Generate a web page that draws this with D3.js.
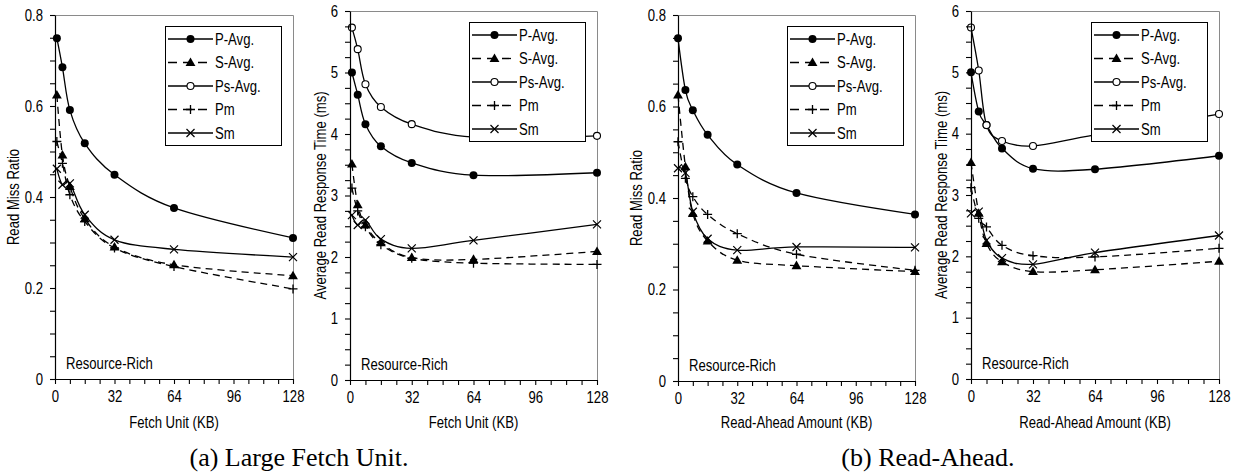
<!DOCTYPE html>
<html>
<head>
<meta charset="utf-8">
<script src="https://cdn.jsdelivr.net/npm/d3@7"></script>
<style>
  body { margin: 0; background: #fff; }
  svg text { font-family: "Liberation Sans", Arial, Helvetica, sans-serif; fill: #000; }
  .caption { font-family: "Liberation Serif", "Times New Roman", serif !important; }
</style>
</head>
<body>
<svg id="chart" width="1241" height="474"></svg>
<script>
// ---- data ----
const fetchUnitKB = [1, 4, 8, 16, 32, 64, 128];
const readAheadKB = [0, 4, 8, 16, 32, 64, 128];
const seriesNames = ["P-Avg.", "S-Avg.", "Ps-Avg.", "Pm", "Sm"];
const xTickLabels = [0, 32, 64, 96, 128];

// Large fetch unit: read miss ratio
const fetchMissPAvg = [0.749, 0.685, 0.591, 0.518, 0.449, 0.376, 0.310];
const fetchMissSAvg = [0.624, 0.492, 0.423, 0.352, 0.290, 0.251, 0.227];
const fetchMissPm   = [0.522, 0.474, 0.405, 0.346, 0.288, 0.247, 0.198];
const fetchMissSm   = [0.462, 0.427, 0.430, 0.361, 0.306, 0.285, 0.268];

// Large fetch unit: average read response time (ms)
const fetchRespPAvg  = [5.00, 4.64, 4.16, 3.80, 3.53, 3.33, 3.37];
const fetchRespSAvg  = [3.51, 2.85, 2.52, 2.23, 1.99, 1.96, 2.09];
const fetchRespPsAvg = [5.73, 5.38, 4.81, 4.44, 4.16, 3.95, 3.97];
const fetchRespPm    = [3.12, 2.75, 2.49, 2.20, 1.98, 1.90, 1.88];
const fetchRespSm    = [2.68, 2.52, 2.60, 2.29, 2.14, 2.27, 2.53];

// Read-ahead: read miss ratio
const raMissPAvg = [0.749, 0.636, 0.592, 0.538, 0.473, 0.411, 0.364];
const raMissSAvg = [0.625, 0.468, 0.366, 0.306, 0.264, 0.252, 0.239];
const raMissPm   = [0.523, 0.443, 0.403, 0.364, 0.322, 0.277, 0.242];
const raMissSm   = [0.465, 0.455, 0.370, 0.311, 0.286, 0.293, 0.292];

// Read-ahead: average read response time (ms)
const raRespPAvg  = [5.00, 4.36, 4.14, 3.76, 3.43, 3.42, 3.64];
const raRespSAvg  = [3.53, 2.70, 2.21, 1.91, 1.75, 1.78, 1.92];
const raRespPsAvg = [5.73, 5.03, 4.14, 3.88, 3.80, 3.98, 4.32];
const raRespPm    = [3.12, 2.62, 2.48, 2.18, 2.01, 1.99, 2.13];
const raRespSm    = [2.70, 2.73, 2.26, 1.97, 1.87, 2.06, 2.34];

// ---- styles per series ----
const styles = {
  "P-Avg.":  { dash: null,  marker: "dot" },
  "S-Avg.":  { dash: "7,5", marker: "tri" },
  "Ps-Avg.": { dash: null,  marker: "ring" },
  "Pm":      { dash: "7,5", marker: "plus" },
  "Sm":      { dash: null,  marker: "cross" }
};

const SX = 0.82;          // horizontal condensing of the label font
const FONT = 16;
const LINE_W = 1.3;
const svg = d3.select("#chart");

function drawMarker(g, kind, cx, cy) {
  if (kind === "dot") {
    g.append("circle").attr("cx", cx).attr("cy", cy).attr("r", 4).attr("fill", "#000");
  } else if (kind === "ring") {
    g.append("circle").attr("cx", cx).attr("cy", cy).attr("r", 3.5)
      .attr("fill", "#fff").attr("stroke", "#000").attr("stroke-width", 1.1);
  } else if (kind === "tri") {
    g.append("path").attr("d", d3.symbol(d3.symbolTriangle, 42)())
      .attr("transform", `translate(${cx},${cy + 0.6})`).attr("fill", "#000");
  } else if (kind === "plus") {
    g.append("path").attr("d", `M${cx - 4.5},${cy}H${cx + 4.5}M${cx},${cy - 4.5}V${cy + 4.5}`)
      .attr("stroke", "#000").attr("stroke-width", 1.3);
  } else if (kind === "cross") {
    g.append("path").attr("d", `M${cx - 4},${cy - 4}L${cx + 4},${cy + 4}M${cx - 4},${cy + 4}L${cx + 4},${cy - 4}`)
      .attr("stroke", "#000").attr("stroke-width", 1.2);
  }
}

function label(g, txt, x, y, anchor, rotate) {
  return g.append("text")
    .attr("transform", `translate(${x},${y})${rotate ? " rotate(-90)" : ""} scale(${SX},1)`)
    .attr("font-size", FONT).attr("text-anchor", anchor || "start").text(txt);
}

function drawPanel(cfg) {
  const g = svg.append("g");
  const x = d3.scaleLinear().domain([0, 128]).range([cfg.left, cfg.right]);
  const y = d3.scaleLinear().domain([0, cfg.yMax]).range([cfg.bottom, cfg.top]);

  // grey frame on top and right of plot area
  g.append("path")
    .attr("d", `M${x(0)},${y(cfg.yMax) + 0.5}H${x(128) + 0.5}V${y(0)}`)
    .attr("fill", "none").attr("stroke", "#8a8a8a").attr("stroke-width", 1);

  // series
  const line = d3.line().x(d => x(d[0])).y(d => y(d[1])).curve(d3.curveCardinal.tension(0));
  cfg.series.forEach(s => {
    const pts = cfg.xs.map((xv, i) => [xv, s.values[i]]);
    const st = styles[s.name];
    g.append("path").attr("d", line(pts)).attr("fill", "none")
      .attr("stroke", "#000").attr("stroke-width", LINE_W)
      .attr("stroke-dasharray", st.dash);
    pts.forEach(p => drawMarker(g, st.marker, x(p[0]), y(p[1])));
  });

  // axes
  const xAxis = d3.axisBottom(x).tickValues(d3.range(0, 17).map(i => i * 8))
    .tickSize(5).tickSizeOuter(0).tickPadding(7)
    .tickFormat(d => xTickLabels.includes(d) ? String(d) : "");
  const gx = g.append("g").attr("transform", `translate(0,${cfg.bottom})`).call(xAxis);
  gx.selectAll("text").attr("font-size", FONT).attr("font-family", null)
    .attr("transform", `scale(${SX},1)`);

  const nY = Math.round(cfg.yMax / cfg.yStep);
  const yAxis = d3.axisLeft(y).tickValues(d3.range(0, nY + 1).map(i => i * cfg.yStep))
    .tickSize(5).tickSizeOuter(0).tickPadding(7)
    .tickFormat((d, i) => i % cfg.yMajorEvery === 0 ? (d === 0 ? "0" : d3.format(cfg.yFmt)(d)) : "");
  const gy = g.append("g").attr("transform", `translate(${cfg.left},0)`).call(yAxis);
  gy.selectAll("text").attr("font-size", FONT).attr("font-family", null)
    .attr("x", -12 / SX).attr("transform", `scale(${SX},1)`);
  [gx, gy].forEach(a => {
    a.selectAll("path.domain").attr("stroke", "#000").attr("stroke-width", 1.2);
    a.selectAll("line").attr("stroke", "#000").attr("stroke-width", 1.1);
  });

  // axis titles
  label(g, cfg.xTitle, (cfg.left + cfg.right) / 2, 428, "middle");
  label(g, cfg.yTitle, cfg.left - cfg.yTitleOffset, (cfg.top + cfg.bottom) / 2, "middle", true)
    .attr("dy", "0.35em");

  // scenario tag
  label(g, "Resource-Rich", cfg.left + 11, cfg.bottom - 10, "start");

  // legend
  const lw = 116, lh = 119;
  const lx = cfg.right - 12 - lw, ly = cfg.top + 11;
  const lg = g.append("g");
  lg.append("rect").attr("x", lx + 0.5).attr("y", ly + 0.5).attr("width", lw).attr("height", lh)
    .attr("fill", "#fff").attr("stroke", "#000").attr("stroke-width", 1);
  seriesNames.forEach((name, i) => {
    const yy = ly + 13 + i * 23.5;
    const st = styles[name];
    lg.append("path").attr("d", `M${lx + 3},${yy}H${lx + 48}`)
      .attr("stroke", "#000").attr("stroke-width", LINE_W)
      .attr("stroke-dasharray", st.dash ? "9,6" : null);
    drawMarker(lg, st.marker, lx + 25.5, yy);
    label(lg, name, lx + 50, yy, "start").attr("dy", "0.36em");
  });
}

const panels = [
  { left: 55, right: 293, top: 15, bottom: 379, yMax: 0.8, yStep: 0.05, yMajorEvery: 4, yFmt: ".1f",
    xs: fetchUnitKB, xTitle: "Fetch Unit (KB)", yTitle: "Read Miss Ratio", yTitleOffset: 42,
    series: [
      { name: "P-Avg.", values: fetchMissPAvg },
      { name: "S-Avg.", values: fetchMissSAvg },
      { name: "Pm", values: fetchMissPm },
      { name: "Sm", values: fetchMissSm }
    ] },
  { left: 350, right: 597, top: 11, bottom: 380, yMax: 6, yStep: 0.25, yMajorEvery: 4, yFmt: "d",
    xs: fetchUnitKB, xTitle: "Fetch Unit (KB)", yTitle: "Average Read Response Time (ms)", yTitleOffset: 30,
    series: [
      { name: "P-Avg.", values: fetchRespPAvg },
      { name: "S-Avg.", values: fetchRespSAvg },
      { name: "Ps-Avg.", values: fetchRespPsAvg },
      { name: "Pm", values: fetchRespPm },
      { name: "Sm", values: fetchRespSm }
    ] },
  { left: 678, right: 915, top: 15, bottom: 381, yMax: 0.8, yStep: 0.05, yMajorEvery: 4, yFmt: ".1f",
    xs: readAheadKB, xTitle: "Read-Ahead Amount (KB)", yTitle: "Read Miss Ratio", yTitleOffset: 42,
    series: [
      { name: "P-Avg.", values: raMissPAvg },
      { name: "S-Avg.", values: raMissSAvg },
      { name: "Pm", values: raMissPm },
      { name: "Sm", values: raMissSm }
    ] },
  { left: 971, right: 1219, top: 11, bottom: 379, yMax: 6, yStep: 0.25, yMajorEvery: 4, yFmt: "d",
    xs: readAheadKB, xTitle: "Read-Ahead Amount (KB)", yTitle: "Average Read Response Time (ms)", yTitleOffset: 30,
    series: [
      { name: "P-Avg.", values: raRespPAvg },
      { name: "S-Avg.", values: raRespSAvg },
      { name: "Ps-Avg.", values: raRespPsAvg },
      { name: "Pm", values: raRespPm },
      { name: "Sm", values: raRespSm }
    ] }
];

panels.forEach(drawPanel);

// sub-figure captions
svg.append("text").attr("class", "caption").attr("x", 299).attr("y", 466)
  .attr("text-anchor", "middle").attr("font-size", 26).text("(a) Large Fetch Unit.");
svg.append("text").attr("class", "caption").attr("x", 928).attr("y", 466)
  .attr("text-anchor", "middle").attr("font-size", 26).text("(b) Read-Ahead.");
</script>
</body>
</html>
